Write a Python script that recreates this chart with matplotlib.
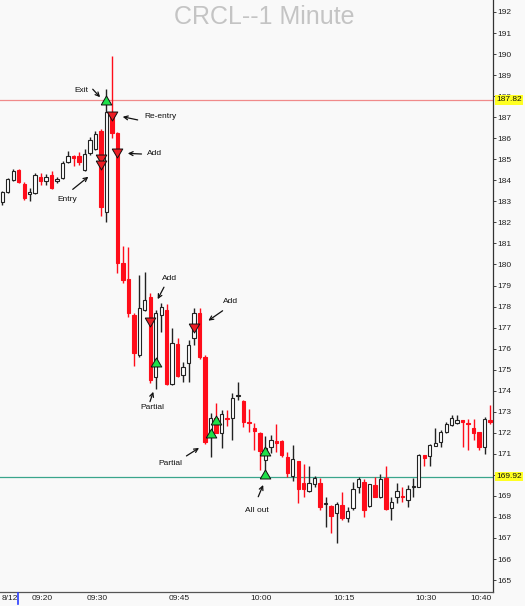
import pandas as pd
import matplotlib.pyplot as plt
from matplotlib.path import Path
from matplotlib.lines import Line2D
from matplotlib.transforms import blended_transform_factory

plt.rcParams['font.family'] = ['Liberation Sans', 'DejaVu Sans']

# 1 minute bars for CRCL, 09:13 -> 10:42
opens = [182.98, 183.46, 184.01, 184.49, 183.81, 183.34, 183.38, 184.17, 183.98, 184.25,
         183.97, 184.10, 184.86, 185.17, 185.17, 184.49, 185.30, 185.50, 186.35, 182.50,
         187.20, 186.25, 180.08, 179.30, 177.60, 175.68, 177.84, 178.47, 174.66, 177.60,
         177.84, 174.32, 176.20, 174.75, 175.30, 176.49, 177.68, 175.62, 171.86, 172.69,
         171.98, 172.72, 172.69, 173.74, 173.53, 172.53, 172.22, 172.00, 170.70, 171.34,
         171.60, 171.62, 170.83, 169.95, 170.67, 169.63, 169.25, 169.55, 169.60, 168.60,
         168.52, 168.20, 168.57, 167.94, 168.41, 169.43, 169.68, 168.52, 169.50, 168.93,
         169.87, 168.41, 168.96, 169.00, 168.80, 169.41, 169.41, 170.96, 170.88, 171.39,
         171.55, 172.05, 172.37, 172.45, 172.60, 172.48, 172.22, 172.05, 171.34, 172.60]
highs = [183.50, 184.10, 184.52, 184.52, 183.90, 183.62, 184.36, 184.33, 184.30, 184.45,
         184.15, 184.90, 185.39, 185.20, 185.36, 185.47, 186.07, 186.35, 186.45, 188.35,
         189.90, 186.30, 180.90, 180.82, 177.68, 179.52, 179.66, 178.63, 177.84, 178.15,
         178.10, 176.96, 176.50, 175.35, 176.41, 177.92, 177.92, 175.70, 172.93, 173.43,
         173.08, 173.10, 173.88, 174.40, 173.55, 173.12, 172.45, 172.05, 171.85, 171.90,
         172.40, 171.65, 171.10, 171.42, 170.67, 170.50, 170.40, 169.95, 169.87, 168.96,
         168.55, 168.73, 169.20, 168.46, 169.68, 169.88, 169.80, 169.55, 169.88, 170.04,
         170.44, 168.96, 169.63, 169.41, 169.52, 169.85, 171.00, 170.96, 171.45, 172.22,
         172.13, 172.50, 172.85, 172.85, 172.62, 172.64, 172.64, 172.05, 172.76, 173.33]
lows = [182.83, 183.40, 183.95, 183.89, 183.05, 183.02, 183.33, 183.78, 183.80, 183.60,
        183.88, 184.05, 184.81, 184.68, 184.73, 184.45, 185.20, 185.45, 182.30, 182.00,
        186.00, 179.60, 179.10, 177.52, 175.17, 175.60, 177.80, 174.35, 174.10, 176.80,
        174.27, 174.27, 174.65, 174.43, 174.43, 176.17, 175.50, 171.45, 170.86, 171.98,
        171.26, 172.30, 171.66, 173.56, 172.29, 172.05, 171.18, 170.23, 169.90, 171.04,
        171.10, 170.83, 169.90, 169.73, 168.65, 168.96, 169.20, 169.40, 168.33, 167.54,
        167.22, 166.75, 167.86, 167.78, 168.35, 169.15, 168.01, 168.45, 168.96, 168.90,
        168.33, 167.86, 168.65, 168.73, 168.49, 168.96, 169.41, 170.44, 170.40, 171.39,
        171.34, 172.00, 172.32, 172.40, 171.34, 171.18, 171.66, 171.20, 170.98, 172.42]
closes = [183.46, 184.05, 184.46, 183.93, 183.15, 183.46, 184.25, 183.97, 184.17, 183.65,
          184.06, 184.81, 185.16, 185.07, 184.86, 185.25, 185.90, 186.20, 182.75, 187.25,
          186.25, 180.05, 179.26, 177.68, 175.77, 177.92, 178.31, 174.51, 177.71, 177.97,
          174.30, 176.28, 174.70, 175.11, 176.16, 177.68, 175.59, 171.58, 172.72, 172.00,
          172.88, 172.66, 173.67, 173.80, 172.53, 172.45, 172.10, 171.13, 171.30, 171.66,
          171.53, 170.94, 170.07, 170.74, 169.31, 169.31, 169.60, 169.87, 168.49, 168.62,
          168.05, 168.62, 167.94, 168.30, 169.31, 169.80, 168.35, 169.55, 168.96, 169.80,
          168.36, 168.73, 169.23, 168.93, 169.31, 169.47, 170.96, 170.80, 171.42, 171.51,
          172.05, 172.42, 172.69, 172.60, 172.53, 172.42, 171.98, 171.34, 172.64, 172.53]

times = pd.date_range('2025-08-12 09:13', periods=len(opens), freq='min').strftime('%H:%M').tolist()

# executions
buy_times = ['09:32', '09:41', '09:51', '09:52', '10:01', '10:01']
buy_prices = [187.82, 175.37, 171.98, 172.62, 171.15, 170.03]
sell_times = ['09:31', '09:31', '09:33', '09:34', '09:40', '09:48']
sell_prices = [184.99, 184.71, 187.06, 185.32, 177.28, 176.98]

exit_price = 187.82
last_out = 169.92

time_labels = ['09:20', '09:30', '09:45', '10:00', '10:15', '10:30', '10:40']

# notes: text, text pos (bar, price), arrow tail, arrow head, alignment
notes = [
    ('Exit', (14.5, 188.26), (16.5, 188.33), (17.85, 187.95), 'center'),
    ('Re-entry', (25.9, 187.01), (24.7, 186.87), (21.97, 187.02), 'left'),
    ('Add', (26.4, 185.28), (25.4, 185.25), (22.9, 185.28), 'left'),
    ('Entry', (11.8, 183.10), (12.85, 183.57), (15.7, 184.17), 'center'),
    ('Add', (30.6, 179.34), (29.5, 178.92), (28.35, 178.35), 'center'),
    ('Partial', (27.3, 173.21), (26.95, 173.48), (27.55, 173.95), 'center'),
    ('Add', (41.7, 178.23), (40.2, 177.80), (37.6, 177.33), 'center'),
    ('Partial', (30.6, 170.56), (33.6, 170.90), (35.9, 171.28), 'center'),
    ('All out', (46.4, 168.33), (46.7, 168.96), (47.6, 169.52), 'center'),
]

bg = '#f9f9f9'
red = '#ff0d1a'

fig = plt.figure(figsize=(5.25, 6.06), dpi=100, facecolor=bg)
ax = fig.add_axes([0, 14 / 606, 493 / 525, 592 / 606])
ax.set_facecolor(bg)

x = list(range(len(opens)))
up = [c >= o for o, c in zip(opens, closes)]
wick_cols = ['#222222' if u else red for u in up]
body_bot = [min(o, c) for o, c in zip(opens, closes)]
body_h = [max(abs(c - o), 0.04) for o, c in zip(opens, closes)]
fills = ['white' if u else red for u in up]
edges = ['#222222' if u else red for u in up]

ax.axhline(exit_price, color='#f08a8a', lw=0.9, zorder=1)
ax.axhline(last_out, color='#3aa58c', lw=0.9, zorder=1)

ax.vlines(x, lows, highs, colors=wick_cols, lw=1.0, zorder=2)
ax.bar(x, body_h, bottom=body_bot, width=0.62, color=fills, edgecolor=edges,
       linewidth=0.8, zorder=3)

up_tri = Path([(-1, -0.85), (1, -0.85), (0, 0.85), (-1, -0.85)])
dn_tri = Path([(-1, 0.85), (1, 0.85), (0, -0.85), (-1, 0.85)])
bx = [times.index(t) for t in buy_times]
sx = [times.index(t) for t in sell_times]
ax.plot(sx, sell_prices, ls='none', marker=dn_tri, ms=7.6, mfc='#ee1c24',
        mec='#111111', mew=0.7, zorder=5)
ax.plot(bx, buy_prices, ls='none', marker=up_tri, ms=7.6, mfc='#1fe04a',
        mec='#111111', mew=0.7, zorder=5)

for text, tpos, tail, head, ha in notes:
    ax.text(tpos[0], tpos[1], text, fontsize=6, ha=ha, va='center', color='#111111', zorder=6)
    ax.annotate('', xy=head, xytext=tail,
                arrowprops=dict(arrowstyle='->', lw=0.9, color='#111111',
                                shrinkA=0, shrinkB=0, mutation_scale=7),
                zorder=6)

ax.set_xlim(-0.42, 89.54)
ax.set_ylim(164.433, 192.570)

ax.yaxis.tick_right()
ax.set_yticks(range(165, 193))
ax.tick_params(axis='y', length=2, width=0.6, labelsize=6, pad=1, colors='#222222')
ax.set_xticks([times.index(t) + 0.3 for t in time_labels])
ax.set_xticklabels(time_labels)
ax.tick_params(axis='x', length=0, labelsize=6, pad=2, colors='#222222')

for side in ['left', 'top']:
    ax.spines[side].set_visible(False)
ax.spines['right'].set_color('#333333')
ax.spines['bottom'].set_color('#555555')
ax.spines['right'].set_linewidth(0.9)
ax.spines['bottom'].set_linewidth(0.9)

# price flags on the axis, drawn over the nearby whole-number labels
tr = blended_transform_factory(ax.transAxes, ax.transData)
for lvl in [exit_price, last_out]:
    ax.text(1.006, lvl, f'{lvl:.2f}', transform=tr, fontsize=6, ha='left', va='center',
            color='#111111', clip_on=False, zorder=10,
            bbox=dict(boxstyle='square,pad=0.15', fc='#ffff22', ec='none'))

# session date marker
fig.text(2 / 525, 1 - 598 / 606, '8/12', fontsize=6, ha='left', va='center', color='#222222')
fig.add_artist(Line2D([18.3 / 525] * 2, [1 - 593 / 606, 1 - 604 / 606], color='#2a3cff', lw=1.2))

fig.text(264 / 525, 1 - 17 / 606, 'CRCL--1 Minute', fontsize=18, ha='center', va='center',
         color='#c4c4c4')

fig.savefig('out.png', dpi=100, facecolor=bg)
